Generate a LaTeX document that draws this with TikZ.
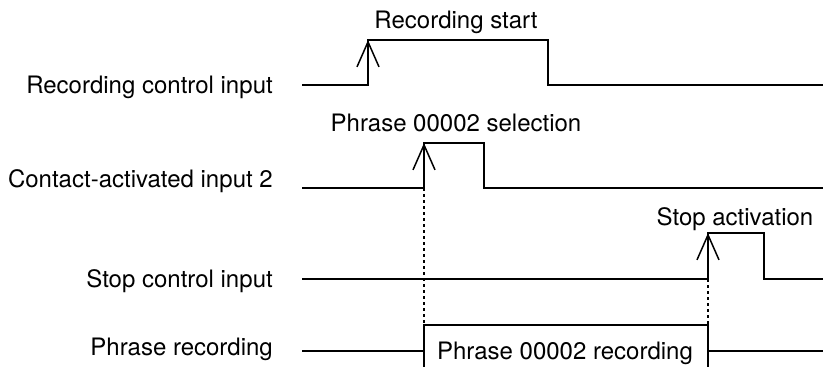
\documentclass[tikz,border=0pt]{standalone}
\usepackage{fontspec}
\setmainfont{TeX Gyre Heros}
\usetikzlibrary{arrows.meta}
\tikzset{
  wave/.style={line width=1.5pt, line join=miter},
  edgearrow/.style={line width=1.5pt, -{Straight Barb[length=25pt, width=22pt, line width=1.5pt]}},
  guide/.style={line width=1.3pt, dash pattern=on 3pt off 3pt},
  sigtext/.style={anchor=base east, inner sep=0pt, font=\fontsize{24}{26}\selectfont},
  eventtext/.style={anchor=base, inner sep=0pt, font=\fontsize{24}{26}\selectfont}
}
\begin{document}
\begin{tikzpicture}[x=1pt, y=-1pt]
  \clip (0,0) rectangle (823,367);
  \def\xs{302}
  \def\xe{823}
  % signal names
  \node[sigtext] (rec) at (273,93) {Recording control input};
  \node[sigtext] (cai) at (273,187) {Contact-activated input 2};
  \node[sigtext] (stp) at (273,287) {Stop control input};
  \node[sigtext] (phr) at (273,355) {Phrase recording};
  % recording control input
  \draw[wave] (\xs,85) -- (368,85) -- (368,40) -- (548,40) -- (548,85) -- (\xe,85);
  \draw[edgearrow] (368,85) -- (368,40);
  \node[eventtext] (recstart) at (456,28) {Recording start};
  % contact-activated input 2
  \draw[wave] (\xs,188) -- (424,188) -- (424,143) -- (484,143) -- (484,188) -- (\xe,188);
  \draw[edgearrow] (424,188) -- (424,143);
  \node[eventtext] (select) at (456,131) {Phrase 00002 selection};
  % stop control input
  \draw[wave] (\xs,279) -- (708,279) -- (708,233) -- (764,233) -- (764,279) -- (\xe,279);
  \draw[edgearrow] (708,279) -- (708,233);
  \node[eventtext] (stopact) at (735,225) {Stop activation};
  % phrase recording
  \draw[wave] (\xs,351) -- (424,351);
  \draw[wave] (424,380) -- (424,325) -- (708,325) -- (708,380);
  \draw[wave] (708,351) -- (\xe,351);
  \node[eventtext] (recbox) at (565,359) {Phrase 00002 recording};
  % timing guides
  \draw[guide] (424,188) -- (424,325);
  \draw[guide] (708,279) -- (708,325);
\end{tikzpicture}
\end{document}
